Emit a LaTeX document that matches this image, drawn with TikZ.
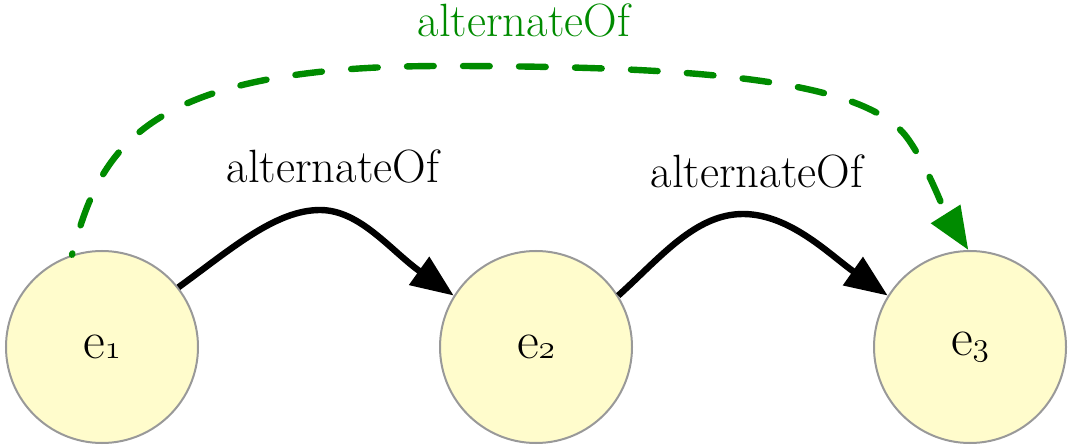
\documentclass[tikz,border=0pt]{standalone}
\usetikzlibrary{arrows.meta}
\definecolor{nodefill}{RGB}{255,252,204}
\definecolor{nodeborder}{RGB}{153,153,153}
\definecolor{altgreen}{RGB}{0,139,0}
\begin{document}
\begin{tikzpicture}[x=0.75pt,y=-0.75pt,
  entity/.style={circle, draw=nodeborder, line width=1.5pt, fill=nodefill,
    minimum size=144pt, inner sep=0pt, font=\fontsize{40}{48}\selectfont},
  rel/.style={line width=4.8pt, -{Triangle[length=32pt,width=25pt]}},
  altrel/.style={rel, draw=altgreen, dash pattern=on 20pt off 22pt, dash phase=19pt, line cap=round},
  lbl/.style={font=\fontsize{35}{42}\selectfont, anchor=base, inner sep=0pt}]
\useasboundingbox (0,0) rectangle (1070,445);
\node[entity] (e1) at (102,347) {e\legacyoldstylenums{1}};
\node[entity] (e2) at (536,347) {e\legacyoldstylenums{2}};
\node[entity] (e3) at (970,347) {e\legacyoldstylenums{3}};
\node[lbl] (l1) at (333,183) {alternateOf};
\node[lbl] (l2) at (757,188) {alternateOf};
\node[lbl, text=altgreen] (l3) at (524,37) {alternateOf};
\draw[rel] (e1.38) .. controls (230,250) and (275,210) .. (320,210)
  .. controls (360,210) and (390,250) .. (e2.148);
\draw[rel] (e2.32) .. controls (660,258) and (695,214) .. (743,214)
  .. controls (790,214) and (830,255) .. (e3.148);
\draw[altrel] (e1.108) .. controls (100,150) and (140,66) .. (443,66)
  .. controls (700,66) and (860,80) .. (905,135)
  .. controls (925,160) and (945,213) .. (e3.91);
\end{tikzpicture}
\end{document}
